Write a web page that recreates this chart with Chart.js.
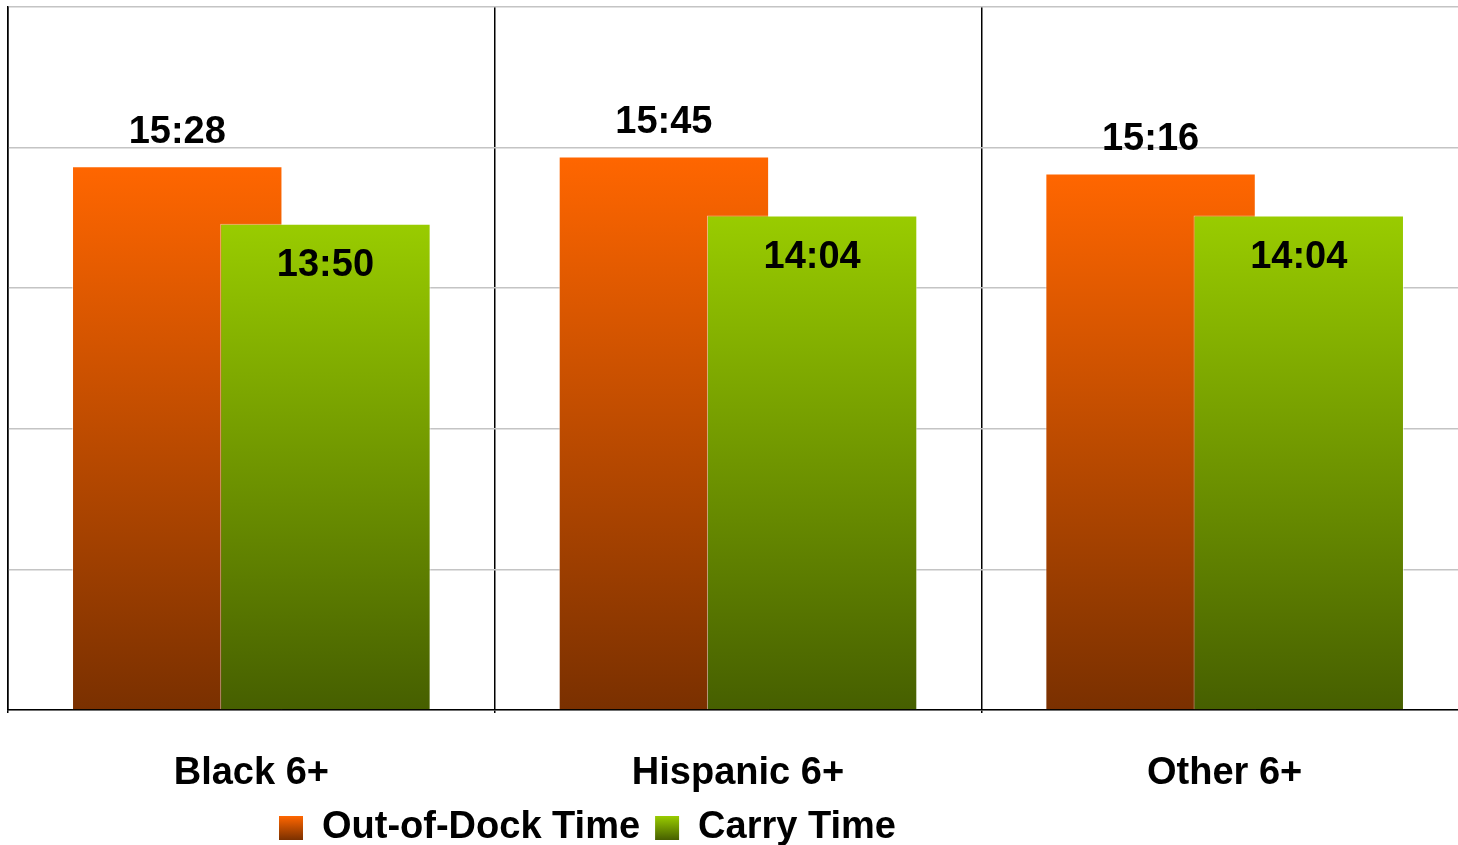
<!DOCTYPE html>
<html>
<head>
<meta charset="utf-8">
<script src="https://cdn.jsdelivr.net/npm/chart.js@4/dist/chart.umd.min.js"></script>
<style>
  html, body { margin: 0; padding: 0; background: #fff; overflow: hidden; }
  #wrap { width: 1470px; height: 845px; }
</style>
</head>
<body>
<div id="wrap"><canvas id="timeChart"></canvas></div>
<script>
// categories and values (seconds, shown as mm:ss)
var categories = ['Black 6+', 'Hispanic 6+', 'Other 6+'];
var seriesNames = ['Out-of-Dock Time', 'Carry Time'];
var outOfDock = [928, 945, 916];   // 15:28, 15:45, 15:16
var carryTime = [830, 844, 844];   // 13:50, 14:04, 14:04
var yTicks = [0, 240, 480, 720, 960, 1200];

var FONT = '"Liberation Sans", Arial, sans-serif';
var FSIZE = 38;
var orangeStops = ['#ff6600', '#7a3000'];
var greenStops = ['#99cc00', '#465f00'];

function mmss(sec) {
    var m = Math.floor(sec / 60);
    var s = sec % 60;
    return m + ':' + (s < 10 ? '0' : '') + s;
}

// gradient from the top of each bar down to the baseline
function barGradient(stops) {
    return function (c) {
        var chart = c.chart;
        if (!chart.chartArea || c.raw == null) return stops[0];
        var y = chart.scales.y;
        var top = y.getPixelForValue(c.raw), base = y.getPixelForValue(0);
        if (!isFinite(top) || !isFinite(base)) return stops[0];
        var g = chart.ctx.createLinearGradient(0, top, 0, base);
        g.addColorStop(0, stops[0]);
        g.addColorStop(1, stops[1]);
        return g;
    };
}

// draw first dataset first so the green bars overlap the orange ones
var drawOrder = {
    id: 'drawOrder',
    beforeDatasetsDraw: function (chart) {
        for (var i = 0; i < chart.data.datasets.length; i++) {
            chart.getDatasetMeta(i).controller.draw();
        }
        return false;
    }
};

// value labels: above the orange bars, inside the top of the green bars
var valueLabels = {
    id: 'valueLabels',
    afterDraw: function (chart) {
        var ctx = chart.ctx;
        ctx.save();
        ctx.font = 'bold ' + FSIZE + 'px ' + FONT;
        ctx.fillStyle = '#000';
        ctx.textAlign = 'center';
        ctx.textBaseline = 'middle';
        chart.data.datasets.forEach(function (ds, i) {
            chart.getDatasetMeta(i).data.forEach(function (bar, j) {
                var dy = i === 0 ? -34 : 42;
                ctx.fillText(mmss(ds.data[j]), bar.x, bar.y + dy);
            });
        });
        ctx.restore();
    }
};

// legend sits left of centre in the original
var legendShift = {
    id: 'legendShift',
    afterLayout: function (chart) {
        var lg = chart.legend;
        var pad = lg.options.labels.padding;
        var w = lg.right - lg.left;
        lg.left = 279 - pad;
        lg.right = lg.left + w;
    }
};

function legendLabels(chart) {
    var items = Chart.defaults.plugins.legend.labels.generateLabels(chart);
    var lg = chart.legend;
    var mid = lg.top + lg.options.labels.padding + FSIZE / 2;
    [orangeStops, greenStops].forEach(function (stops, i) {
        if (!items[i]) return;
        var fill = stops[0];
        if (isFinite(mid)) {
            fill = chart.ctx.createLinearGradient(0, mid - 12, 0, mid + 12);
            fill.addColorStop(0, stops[0]);
            fill.addColorStop(1, stops[1]);
        }
        items[i].fillStyle = fill;
        items[i].lineWidth = 0;
        items[i].strokeStyle = 'rgba(0,0,0,0)';
    });
    return items;
}

var chart = new Chart(document.getElementById('timeChart').getContext('2d'), {
    type: 'bar',
    data: {
        labels: categories,
        datasets: [{
            label: seriesNames[0],
            data: outOfDock,
            backgroundColor: barGradient(orangeStops),
            borderColor: 'rgba(255,255,255,0.55)',
            borderWidth: { top: 1, left: 1, right: 1, bottom: 0 },
            categoryPercentage: 0.609,
            barPercentage: 1.42
        }, {
            label: seriesNames[1],
            data: carryTime,
            backgroundColor: barGradient(greenStops),
            borderColor: 'rgba(255,255,255,0.6)',
            borderWidth: { top: 1, left: 1, right: 1, bottom: 0 },
            categoryPercentage: 0.609,
            barPercentage: 1.42
        }]
    },
    options: {
        responsive: true,
        maintainAspectRatio: false,
        animation: false,
        layout: { padding: { left: 8, top: 7, right: 2, bottom: -12 } },
        plugins: {
            legend: {
                position: 'bottom',
                align: 'start',
                labels: {
                    font: { family: FONT, size: FSIZE, weight: 'bold' },
                    color: '#000',
                    boxWidth: 24,
                    boxHeight: 24,
                    padding: 15,
                    generateLabels: legendLabels
                }
            },
            tooltip: { enabled: false }
        },
        scales: {
            x: {
                offset: true,
                grid: { offset: true, color: '#000', lineWidth: 1.5, tickLength: 3 },
                border: { color: '#000', width: 1.5 },
                ticks: {
                    font: { family: FONT, size: FSIZE, weight: 'bold' },
                    color: '#000',
                    padding: 38
                },
                afterFit: function (scale) { scale.height = 84; }
            },
            y: {
                min: 0,
                max: 1200,
                afterBuildTicks: function (scale) {
                    scale.ticks = yTicks.map(function (v) { return { value: v }; });
                },
                grid: { color: '#c4c4c4', lineWidth: 1.5, drawTicks: false },
                border: { color: '#000', width: 1.5 },
                ticks: { display: false }
            }
        }
    },
    plugins: [drawOrder, valueLabels, legendShift]
});
</script>
</body>
</html>
